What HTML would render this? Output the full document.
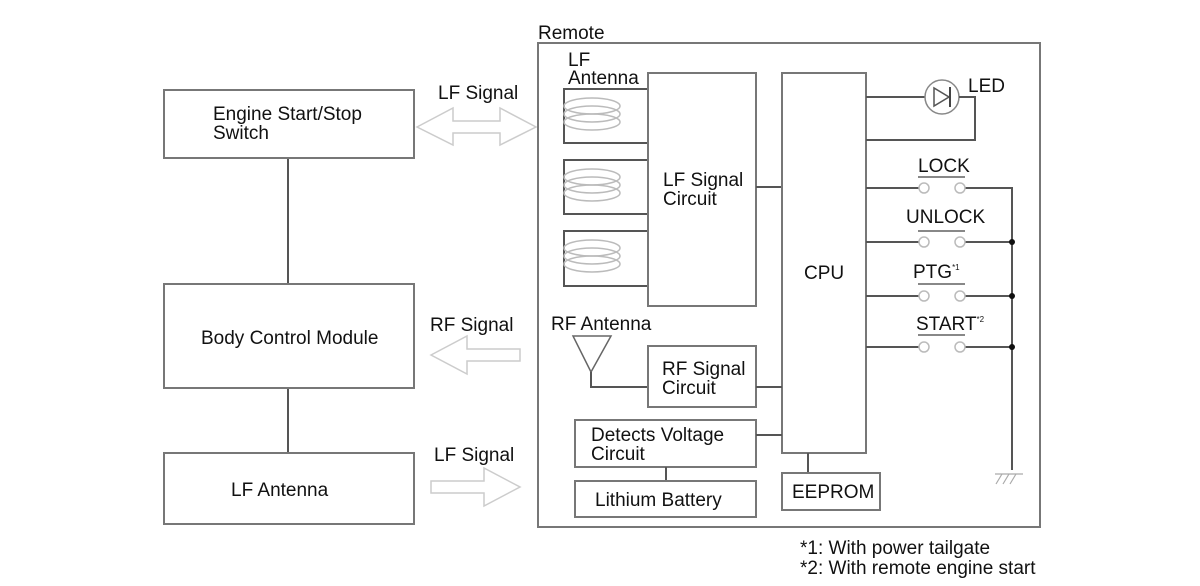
<!DOCTYPE html>
<html><head><style>
html,body{margin:0;padding:0;background:#fff;}
svg{display:block;}
text{font-family:"Liberation Sans",sans-serif;font-size:19px;fill:#111;}
.b{fill:#fff;stroke:#777;stroke-width:2;}
.l{stroke:#555;stroke-width:2;fill:none;}
.a{fill:#fff;stroke:#ccc;stroke-width:1.5;}
.c{fill:none;stroke:#bbb;stroke-width:1.5;}
.sw{fill:#fff;stroke:#bbb;stroke-width:1.5;}
</style></head><body>
<svg width="1200" height="586" viewBox="0 0 1200 586">
<line class="l" x1="288" y1="158" x2="288" y2="284"/>
<line class="l" x1="288" y1="388" x2="288" y2="453"/>
<rect class="b" x="164" y="90" width="250" height="68"/>
<text x="213" y="120">Engine Start/Stop</text><text x="213" y="139">Switch</text>
<rect class="b" x="164" y="284" width="250" height="104"/>
<text x="201" y="344">Body Control Module</text>
<rect class="b" x="164" y="453" width="250" height="71"/>
<text x="231" y="496">LF Antenna</text>
<text x="438" y="99">LF Signal</text>
<polygon class="a" points="417,127 453,108 453,121 500,121 500,108 536,127 500,145 500,133 453,133 453,145"/>
<text x="430" y="331">RF Signal</text>
<polygon class="a" points="431,355 467,336 467,349 520,349 520,361 467,361 467,374"/>
<text x="434" y="461">LF Signal</text>
<polygon class="a" points="431,481 484,481 484,468 520,487 484,506 484,493 431,493"/>
<text x="538" y="39">Remote</text>
<rect x="538" y="43" width="502" height="484" fill="none" stroke="#777" stroke-width="2"/>
<text x="568" y="66">LF</text><text x="568" y="84">Antenna</text>
<g class="l">
<polyline points="648,89 564,89 564,143 648,143"/>
<polyline points="648,160 564,160 564,214 648,214"/>
<polyline points="648,231 564,231 564,286 648,286"/>
</g>
<g class="c">
<ellipse cx="592" cy="106" rx="28" ry="8"/><ellipse cx="592" cy="114" rx="28" ry="8"/><ellipse cx="592" cy="122" rx="28" ry="8"/>
<ellipse cx="592" cy="177" rx="28" ry="8"/><ellipse cx="592" cy="185" rx="28" ry="8"/><ellipse cx="592" cy="193" rx="28" ry="8"/>
<ellipse cx="592" cy="248" rx="28" ry="8"/><ellipse cx="592" cy="256" rx="28" ry="8"/><ellipse cx="592" cy="264" rx="28" ry="8"/>
</g>
<rect class="b" x="648" y="73" width="108" height="233"/>
<text x="663" y="186">LF Signal</text><text x="663" y="205">Circuit</text>
<line class="l" x1="756" y1="187" x2="782" y2="187"/>
<rect class="b" x="782" y="73" width="84" height="380"/>
<text x="804" y="279">CPU</text>
<polyline class="l" points="866,97 975,97 975,140 866,140"/>
<circle cx="942" cy="97" r="17" fill="#fff" stroke="#888" stroke-width="1.5"/>
<polygon points="934,88 934,106 949,97" fill="#fff" stroke="#555" stroke-width="1.5"/>
<line x1="950" y1="87" x2="950" y2="107" stroke="#444" stroke-width="2"/>
<line class="l" x1="959" y1="97" x2="975" y2="97"/>
<text x="968" y="92">LED</text>
<g class="l">
<line x1="866" y1="188" x2="919" y2="188"/><polyline points="965,188 1012,188 1012,470"/>
<line x1="866" y1="242" x2="919" y2="242"/><line x1="965" y1="242" x2="1012" y2="242"/>
<line x1="866" y1="296" x2="919" y2="296"/><line x1="965" y1="296" x2="1012" y2="296"/>
<line x1="866" y1="347" x2="919" y2="347"/><line x1="965" y1="347" x2="1012" y2="347"/>
</g>
<g class="sw">
<circle cx="924" cy="188" r="5"/><circle cx="960" cy="188" r="5"/>
<circle cx="924" cy="242" r="5"/><circle cx="960" cy="242" r="5"/>
<circle cx="924" cy="296" r="5"/><circle cx="960" cy="296" r="5"/>
<circle cx="924" cy="347" r="5"/><circle cx="960" cy="347" r="5"/>
</g>
<g stroke="#888" stroke-width="2">
<line x1="918" y1="177" x2="965" y2="177"/><line x1="918" y1="231" x2="965" y2="231"/>
<line x1="918" y1="284" x2="965" y2="284"/><line x1="918" y1="335" x2="965" y2="335"/>
</g>
<circle cx="1012" cy="242" r="3" fill="#111"/><circle cx="1012" cy="296" r="3" fill="#111"/><circle cx="1012" cy="347" r="3" fill="#111"/>
<text x="918" y="172">LOCK</text><text x="906" y="223">UNLOCK</text>
<text x="913" y="278">PTG<tspan font-size="8" dy="-8">*1</tspan></text>
<text x="916" y="330">START<tspan font-size="8" dy="-8">*2</tspan></text>
<g stroke="#aaa" stroke-width="1.2">
<line x1="995" y1="474" x2="1023" y2="474"/>
<line x1="1002" y1="474" x2="996" y2="484"/><line x1="1009" y1="474" x2="1003" y2="484"/><line x1="1016" y1="474" x2="1010" y2="484"/>
</g>
<text x="551" y="330">RF Antenna</text>
<polygon points="573,336 611,336 591,372" fill="#fff" stroke="#666" stroke-width="1.5"/>
<polyline class="l" points="591,372 591,387 648,387"/>
<rect class="b" x="648" y="346" width="108" height="61"/>
<text x="662" y="375">RF Signal</text><text x="662" y="394">Circuit</text>
<line class="l" x1="756" y1="387" x2="782" y2="387"/>
<rect class="b" x="575" y="420" width="181" height="47"/>
<text x="591" y="441">Detects Voltage</text><text x="591" y="460">Circuit</text>
<line class="l" x1="756" y1="435" x2="782" y2="435"/>
<line class="l" x1="666" y1="467" x2="666" y2="481"/>
<rect class="b" x="575" y="481" width="181" height="36"/>
<text x="595" y="506">Lithium Battery</text>
<line class="l" x1="808" y1="453" x2="808" y2="473"/>
<rect class="b" x="782" y="473" width="98" height="37"/>
<text x="792" y="498">EEPROM</text>
<text x="800" y="554" font-size="18">*1: With power tailgate</text>
<text x="800" y="574" font-size="18">*2: With remote engine start</text>
</svg>
</body></html>
